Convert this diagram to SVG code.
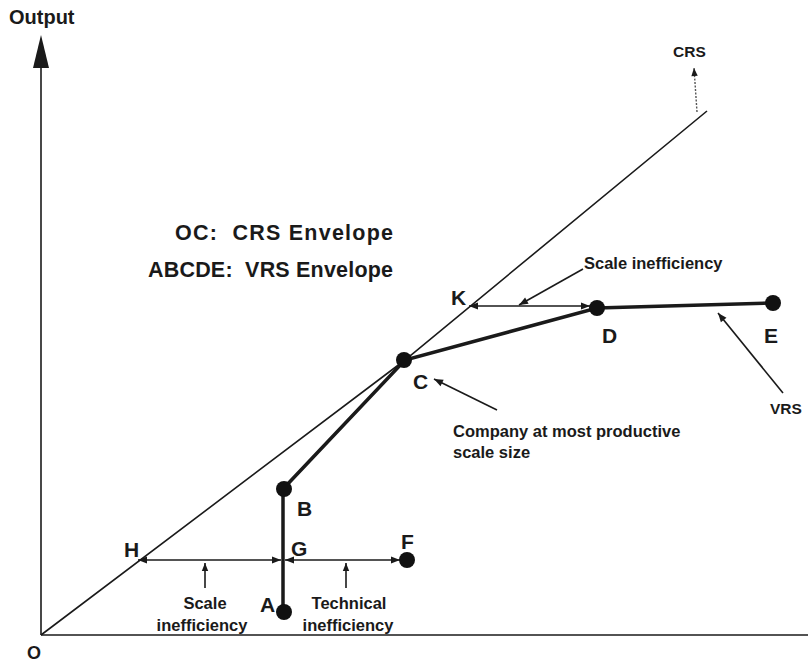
<svg xmlns="http://www.w3.org/2000/svg" width="808" height="662" viewBox="0 0 808 662">
<style>
text{font-family:"Liberation Sans",Arial,sans-serif;font-weight:bold;fill:#1a1a1a}
.lbl{font-size:21px}
.note{font-size:16.5px}
.env{font-size:21.5px;white-space:pre}
.thin{stroke:#1a1a1a;stroke-width:1.6;fill:none}
.thick{stroke:#1a1a1a;stroke-width:3.5;fill:none}
.dot{fill:#111}
</style>
<defs>
<marker id="ah" viewBox="0 0 10 10" refX="10" refY="5" markerWidth="10" markerHeight="8" markerUnits="userSpaceOnUse" orient="auto-start-reverse"><path d="M0,1 L10,5 L0,9 Z" fill="#1a1a1a"/></marker>
<marker id="ah2" viewBox="0 0 10 10" refX="10" refY="5" markerWidth="12" markerHeight="9" markerUnits="userSpaceOnUse" orient="auto-start-reverse"><path d="M0,1 L10,5 L0,9 Z" fill="#1a1a1a"/></marker>
</defs>
<g id="axes">
<line class="thin" x1="41" y1="635" x2="808" y2="635" stroke-width="2"/>
<line class="thin" x1="41" y1="635" x2="41" y2="60" stroke-width="2"/>
<path d="M41,35 L49,68 L33,68 Z" fill="#1a1a1a"/>
<text x="9" y="24" font-size="20">Output</text>
<text x="27" y="659" font-size="18">O</text>
</g>
<g id="connectors">
<path class="thin" d="M41,635 L405,360 L707,111"/>
<path class="thick" d="M283,613 L283,489 L405,360 L597,308 L773,303"/>
<line class="thin" x1="138" y1="560" x2="281" y2="560" marker-start="url(#ah2)" marker-end="url(#ah2)"/>
<line class="thin" x1="285" y1="560" x2="400" y2="560" marker-start="url(#ah2)" marker-end="url(#ah2)"/>
<line class="thin" x1="469" y1="306" x2="590" y2="306" marker-start="url(#ah2)" marker-end="url(#ah2)"/>
<line class="thin" x1="205" y1="588" x2="205" y2="563" marker-end="url(#ah)"/>
<line class="thin" x1="346" y1="588" x2="346" y2="563" stroke-width="1.2" marker-end="url(#ah)"/>
<line class="thin" x1="583" y1="269" x2="519" y2="305" marker-end="url(#ah2)"/>
<line class="thin" x1="497" y1="410" x2="434" y2="379" marker-end="url(#ah2)"/>
<line class="thin" x1="783" y1="393" x2="718" y2="313" marker-end="url(#ah2)"/>
<line x1="697" y1="112" x2="694" y2="68" stroke="#555" stroke-width="1.4" stroke-dasharray="2,1.5" marker-end="url(#ah)"/>
</g>
<g id="node-A"><circle class="dot" cx="284" cy="612" r="8"/><text class="lbl" x="260" y="612">A</text></g>
<g id="node-B"><circle class="dot" cx="284" cy="489" r="8"/><text class="lbl" x="297" y="516">B</text></g>
<g id="node-C"><circle class="dot" cx="404" cy="360" r="8"/><text class="lbl" x="413" y="389">C</text></g>
<g id="node-D"><circle class="dot" cx="597" cy="308" r="8"/><text class="lbl" x="602" y="343">D</text></g>
<g id="node-E"><circle class="dot" cx="773" cy="303" r="8"/><text class="lbl" x="764" y="343">E</text></g>
<g id="node-F"><circle class="dot" cx="407" cy="560" r="8"/><text class="lbl" x="401" y="549">F</text></g>
<g id="node-G"><text class="lbl" x="291" y="556">G</text></g>
<g id="node-H"><text class="lbl" x="124" y="557">H</text></g>
<g id="node-K"><text class="lbl" x="451" y="305">K</text></g>
<g id="labels">
<text class="env" x="175" y="240" textLength="218" lengthAdjust="spacing">OC:  CRS Envelope</text>
<text class="env" x="148" y="277" textLength="245" lengthAdjust="spacing">ABCDE:  VRS Envelope</text>
<text x="673" y="57" font-size="15.5">CRS</text>
<text class="note" x="584" y="269">Scale inefficiency</text>
<text class="note" x="453" y="437">Company at most productive</text>
<text class="note" x="453" y="458">scale size</text>
<text x="770" y="414" font-size="15.5">VRS</text>
<text class="note" x="205" y="609" text-anchor="middle">Scale</text>
<text class="note" x="202" y="631" text-anchor="middle">inefficiency</text>
<text class="note" x="349" y="609" text-anchor="middle">Technical</text>
<text class="note" x="348" y="631" text-anchor="middle">inefficiency</text>
</g>
</svg>
